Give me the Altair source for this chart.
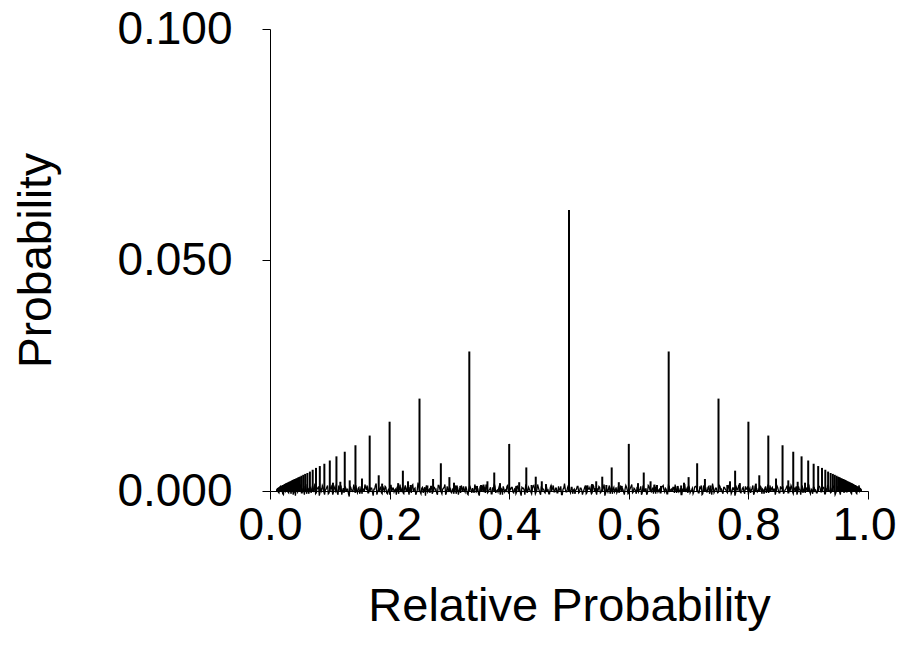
import altair as alt
import pandas as pd

# Central spike (relative probability, probability)
center_spike = (0.5000, 0.0608)

# Mirrored spike pairs: (left position, right position, height)
spike_pairs = [
    (0.3333, 0.6667, 0.0302),
    (0.2500, 0.7500, 0.0200),
    (0.2000, 0.8000, 0.0150),
    (0.1667, 0.8333, 0.0120),
    (0.1429, 0.8571, 0.0099),
    (0.1250, 0.8750, 0.0085),
    (0.1111, 0.8889, 0.0075),
    (0.1000, 0.9000, 0.0066),
    (0.0909, 0.9091, 0.0059),
    (0.0833, 0.9167, 0.0054),
    (0.0769, 0.9231, 0.0050),
    (0.0714, 0.9286, 0.0046),
    (0.0667, 0.9333, 0.0042),
    (0.0625, 0.9375, 0.0039),
    (0.0588, 0.9412, 0.0037),
    (0.0556, 0.9444, 0.0035),
    (0.0526, 0.9474, 0.0033),
    (0.0500, 0.9500, 0.0031),
    (0.0476, 0.9524, 0.0030),
    (0.0455, 0.9545, 0.0028),
    (0.0435, 0.9565, 0.0027),
    (0.0417, 0.9583, 0.0026),
    (0.0400, 0.9600, 0.0025),
    (0.0385, 0.9615, 0.0024),
    (0.0370, 0.9630, 0.0023),
    (0.0357, 0.9643, 0.0022),
    (0.0345, 0.9655, 0.0021),
    (0.0333, 0.9667, 0.0020),
    (0.0323, 0.9677, 0.0020),
    (0.0313, 0.9688, 0.0019),
    (0.0303, 0.9697, 0.0018),
    (0.0294, 0.9706, 0.0018),
    (0.0286, 0.9714, 0.0017),
    (0.0278, 0.9722, 0.0017),
    (0.0270, 0.9730, 0.0016),
    (0.0263, 0.9737, 0.0016),
    (0.0256, 0.9744, 0.0015),
    (0.0250, 0.9750, 0.0015),
    (0.0244, 0.9756, 0.0014),
    (0.0238, 0.9762, 0.0014),
    (0.0233, 0.9767, 0.0013),
    (0.0227, 0.9773, 0.0013),
    (0.0222, 0.9778, 0.0013),
    (0.0217, 0.9783, 0.0012),
    (0.0213, 0.9787, 0.0012),
    (0.0208, 0.9792, 0.0012),
    (0.0204, 0.9796, 0.0011),
    (0.0200, 0.9800, 0.0011),
    (0.0192, 0.9808, 0.0010),
    (0.0185, 0.9815, 0.0010),
    (0.0179, 0.9821, 0.0009),
    (0.0172, 0.9828, 0.0009),
    (0.0167, 0.9833, 0.0009),
    (0.0161, 0.9839, 0.0008),
    (0.0156, 0.9844, 0.0008),
    (0.0152, 0.9848, 0.0007),
    (0.0147, 0.9853, 0.0007),
    (0.0143, 0.9857, 0.0007),
    (0.0137, 0.9863, 0.0006),
    (0.0132, 0.9868, 0.0006),
    (0.0127, 0.9873, 0.0005),
    (0.0122, 0.9878, 0.0004),
    (0.0118, 0.9882, 0.0003),
    (0.4000, 0.6000, 0.0102),
    (0.2857, 0.7143, 0.0060),
    (0.4286, 0.5714, 0.0051),
    (0.3750, 0.6250, 0.0040),
    (0.2222, 0.7778, 0.0044),
    (0.4444, 0.5556, 0.0031),
    (0.3000, 0.7000, 0.0030),
    (0.1818, 0.8182, 0.0034),
    (0.2727, 0.7273, 0.0026),
    (0.4545, 0.5455, 0.0021),
    (0.3636, 0.6364, 0.0021),
    (0.1538, 0.8462, 0.0027),
    (0.2308, 0.7692, 0.0021),
    (0.3077, 0.6923, 0.0018),
    (0.3846, 0.6154, 0.0017),
    (0.4615, 0.5385, 0.0015),
    (0.1333, 0.8667, 0.0023),
    (0.4167, 0.5833, 0.0019),
    (0.1176, 0.8824, 0.0020),
    (0.1053, 0.8947, 0.0018),
    (0.2143, 0.7857, 0.0017),
    (0.1875, 0.8125, 0.0016),
    (0.3571, 0.6429, 0.0014),
    (0.4375, 0.5625, 0.0013),
    (0.3529, 0.6471, 0.0013),
    (0.3125, 0.6875, 0.0012),
    (0.2353, 0.7647, 0.0013),
    (0.4706, 0.5294, 0.0012),
    (0.3182, 0.6818, 0.0011),
    (0.2632, 0.7368, 0.0012),
    (0.4118, 0.5882, 0.0011),
    (0.3462, 0.6538, 0.0011),
]

# Baseline fluctuation, read as small values (in units of NOISE_UNIT):
# "noise" every NOISE_STEP from NOISE_START, "noise_mid" halfway between them
NOISE_START = 0.0125
NOISE_STEP = 0.0025
NOISE_UNIT = 0.0002
noise = [
    3, -2, 5, 1, -4, 6, 2, -1, 4, -3, 7, 0, -5, 3, 1, 5, -2, 2, -4, 6,
    1, -3, 4, 2, -1, 8, -2, 3, -5, 2, 6, -1, 1, 4, -3, 2, 5, -4, 3, 0,
    -2, 6, 1, -4, 3, 5, -1, 2, -6, 4, 1, 7, -2, 0, 3, -3, 5, 2, -1, 4,
    6, -2, 1, 3, -5, 2, 8, -1, 0, 4, -3, 2, 5, -2, 1, -4, 6, 3, -1, 2,
    4, -3, 7, 1, -2, 3, 0, 5, -4, 2, 6, -1, 3, -2, 9, 1, -3, 4, 2, -5,
    3, 1, -2, 5, -1, 4, 2, -4, 6, 0, -3, 3, 7, -2, 1, 4, -1, 2, -3, 5,
    2, -4, 3, 6, -1, 1, 5, -3, 2, 4, -2, 0, 7, -1, 3, -5, 2, 6, 1, -2,
    5, -1, 2, -3, 4, 8, -2, 1, 3, -4, 2, 5, -1, 0, 6, -3, 2, 4, -2, 3,
    -1, 4, 2, -5, 3, 1, 6, -2, 4, 0, -3, 5, 2, -1, 7, 1, -4, 3, 2, -2,
    4, 1, -3, 6, 2, -1, 3, -2, 5, 1, -4, 2, 8, -1, 3, 0, -2, 4, 1, -3,
    2, 5, -1, 3, -4, 1, 6, -2, 2, 4, -3, 7, 0, -1, 3, 5, -2, 1, 4, -5,
    3, -1, 6, 2, -3, 4, 1, -2, 5, 3, -1, 2, -4, 6, 1, -2, 3, 7, -1, 2,
    -3, 4, 1, 5, -2, 3, 0, -4, 6, 2, -1, 3, 5, -3, 2, 1, -2, 4, 6, -1,
    2, -3, 5, 1, -1, 4, 7, -2, 3, 0, -4, 2, 5, -1, 3, 6, -2, 1, -3, 4,
    5, 1, -2, 3, -4, 6, 2, -1, 4, -3, 1, 8, -2, 3, 0, -1, 5, 2, -3, 4,
    1, -2, 6, 3, -1, 2, -5, 4, 1, 7, -2, 3, -1, 5, 2, -4, 3, 1, 6, -2,
    4, -1, 2, 5, -3, 1, 3, -2, 7, 0, -1, 4, 2, -4, 6, 1, -2, 3, 5, -1,
    2, 6, -2, 1, 4, -3, 3, 5, -1, 2, -4, 6, 1, -2, 3, 8, -1, 2, -3, 4,
    1, -2, 5, 3, -1, 4, -3, 2, 6, 0, -2, 3, 5, -4, 1, 2, -1, 4, 7, -2,
    3, -1, 2, 5, -3, 4, 1, -2, 3, 6, 2,
]
noise_mid = [
    -1, 4, 2, -3, 5, 0, 3, -2, 6, 1, -4, 2, 4, -1, 3, 7, -2, 1, 5, -3,
    2, 4, -2, 6, 1, -3, 3, 5, -1, 0, 4, -4, 2, 6, -2, 3, 1, -1, 5, 2,
    -4, 3, 6, 0, -2, 4, 2, -3, 5, 1, -1, 3, 6, -2, 4, 0, -3, 2, 7, 1,
    -2, 5, 3, -1, 2, 6, -4, 1, 3, -2, 5, 0, 4, -3, 2, 6, -1, 3, 1, -4,
    5, 2, -1, 4, -3, 6, 1, 0, 3, -2, 7, 2, -4, 1, 5, -1, 3, -2, 4, 6,
    -1, 2, 5, -3, 4, 1, -2, 6, 3, -1, 2, 4, -4, 5, 0, 3, -2, 1, 6, -3,
    4, 0, -2, 3, 5, -1, 2, -4, 6, 1, 3, -2, 4, 0, -3, 5, 2, -1, 3, 7,
    -2, 1, 4, -3, 2, 5, 0, -1, 6, 3, -4, 2, 1, 5, -2, 3, 4, -1, 2, -3,
    6, 1, -2, 4, 3, -4, 5, 0, 2, -1, 3, 6, -3, 1, 4, -2, 5, 2, -1, 3,
    0, -3, 4, 2, 6, -1, 3, -2, 1, 5, -4, 3, 2, -1, 6, 0, 4, -3, 2, 1,
    5, -2, 3, 1, -1, 4, -3, 6, 2, 0, -2, 5, 3, -4, 1, 4, -1, 2, 7, -2,
    1, 3, -3, 5, 2, -1, 4, 0, -2, 6, 3, -1, 2, 4, -3, 1, 5, -2, 3, 0,
    4, -1, 2, -4, 6, 1, 3, -2, 5, 0, 2, -3, 4, 6, -1, 2, -2, 5, 1, 3,
    -3, 6, 0, 2, 4, -2, 1, 5, -1, 3, -4, 2, 6, 1, -2, 4, 0, 3, -1, 5,
    2, -2, 4, 6, -3, 1, 3, -1, 5, 2, -4, 4, 0, 3, -2, 6, 1, -1, 4, 2,
    -1, 5, 1, -3, 3, 4, -2, 2, 6, -1, 0, 4, -3, 2, 5, 1, -2, 3, -4, 6,
    3, 0, -1, 4, 2, -3, 5, 1, -2, 6, 3, -1, 2, 0, 4, -2, 5, 3, -3, 1,
    4, -2, 3, 6, -1, 2, 0, -4, 5, 1, 3, -2, 4, 2, -1, 6, -3, 1, 4, 0,
    -2, 3, 5, -1, 2, 4, -3, 1, 6, 0, -1, 4, 2, -2, 5, 3, -4, 2, 1, 4,
    -1, 3, 2, -2, 5, 1, 4, -3, 2, 0,
]

x_ticks = [0.0, 0.2, 0.4, 0.6, 0.8, 1.0]
y_ticks = [0.0, 0.05, 0.1]

rows = [{"x": center_spike[0], "y": center_spike[1]}]
for left, right, h in spike_pairs:
    rows.append({"x": left, "y": h})
    rows.append({"x": right, "y": h})
spikes = pd.DataFrame(rows)
spikes["y0"] = 0.0

base_rows = []
for i, v in enumerate(noise):
    base_rows.append({"x": NOISE_START + i * NOISE_STEP, "y": v * NOISE_UNIT})
for i, v in enumerate(noise_mid):
    base_rows.append({"x": NOISE_START + (i + 0.5) * NOISE_STEP, "y": v * NOISE_UNIT})
base = pd.DataFrame(base_rows).sort_values("x").reset_index(drop=True)

FONT = "Liberation Sans"

xscale = alt.Scale(domain=[0, 1], nice=False, zero=False)
yscale = alt.Scale(domain=[0, 0.1], nice=False)

xaxis = alt.Axis(
    values=x_ticks, format=".1f", title="Relative Probability",
    grid=False, tickSize=8, tickColor="black", domainColor="black",
    labelFont=FONT, labelFontSize=46, labelColor="black",
    labelBaseline="alphabetic", labelPadding=40, labelFlush=False,
    labelOffset={"condition": {"test": "datum.value >= 1", "value": -4}, "value": 0},
    titleFont=FONT, titleFontSize=47, titleFontWeight="normal", titleColor="black",
    titleX=299, titleY=129, titleBaseline="alphabetic", titleAlign="center",
)
yaxis = alt.Axis(
    values=y_ticks, format=".3f", title="Probability",
    grid=False, tickSize=8, tickColor="black", domainColor="black",
    labelFont=FONT, labelFontSize=46, labelColor="black",
    labelBaseline="middle", labelPadding=30, labelFlush=False,
    titleFont=FONT, titleFontSize=46, titleFontWeight="normal", titleColor="black",
    titleX=-220, titleY=231, titleAngle=270, titleBaseline="alphabetic", titleAlign="center",
)

line = alt.Chart(base).mark_line(color="black", strokeWidth=1.3).encode(
    x=alt.X("x:Q", scale=xscale, axis=xaxis, sort=None),
    y=alt.Y("y:Q", scale=yscale, axis=yaxis),
)

rules = alt.Chart(spikes).mark_rule(color="black", strokeWidth=2).encode(
    x=alt.X("x:Q", scale=xscale),
    y=alt.Y("y0:Q", scale=yscale),
    y2="y:Q",
)

chart = alt.layer(line, rules).properties(
    width=598, height=462,
    padding={"left": 262, "top": 21, "right": 28, "bottom": 140},
    autosize=alt.AutoSizeParams(type="none"),
).configure(background="white").configure_view(stroke=None)

chart.save("out.html", embed_options={"renderer": "svg", "actions": False})
